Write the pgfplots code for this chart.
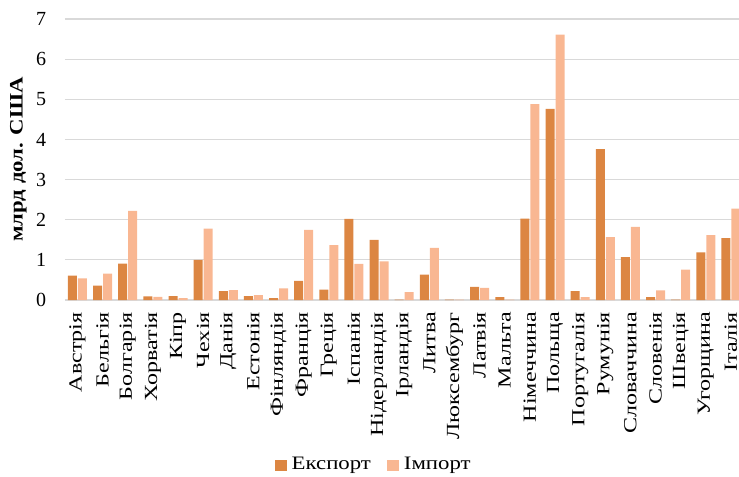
\documentclass[border=0pt]{standalone}
\usepackage{fontspec}
\setmainfont{Liberation Serif}
\newfontfamily\lbl[FakeStretch=1.3]{Liberation Serif}
\newfontfamily\lblb[FakeStretch=1.2]{Liberation Serif}
\usepackage{pgfplots}
\pgfplotsset{compat=1.18}

\definecolor{exportc}{HTML}{DC8642}
\definecolor{importc}{HTML}{F9B792}
\definecolor{gridc}{HTML}{D9D9D9}

\begin{document}
\fontsize{20}{24}\selectfont
\begin{tikzpicture}
\begin{axis}[
    at={(0,0)}, anchor=south west,
    scale only axis,
    width=674pt, height=281pt,
    ybar=1pt, bar width=9pt,
    xmin=-0.5, xmax=26.32,
    ymin=0, ymax=7,
    ytick={0,1,...,7},
    xtick={0,...,26},
    xticklabels={Австрія, Бельгія, Болгарія, Хорватія, Кіпр, Чехія, Данія, Естонія,
        Фінляндія, Франція, Греція, Іспанія, Нідерландія, Ірландія, Литва, Люксембург,
        Латвія, Мальта, Німеччина, Польща, Португалія, Румунія, Словаччина, Словенія,
        Швеція, Угорщина, Італія},
    xticklabel style={rotate=90, anchor=east, inner sep=0pt,
        font=\lbl\fontsize{18.5}{22}\selectfont},
    xticklabel shift=12pt,
    yticklabel style={xshift=-12pt},
    /pgf/number format/assume math mode=true,
    major tick length=0pt,
    axis line style={draw=none},
    ymajorgrids,
    grid style={gridc, line width=1.1pt},
    ylabel={млрд дол. США},
    every axis y label/.style={at={(axis description cs:-0.069,0.5)}, rotate=90,
        anchor=center, font=\lblb\bfseries\fontsize{19}{22}\selectfont},
    legend columns=2,
    legend style={draw=none, at={(0.458,-0.587)}, anchor=center,
        /tikz/every odd column/.append style={column sep=3pt},
        /tikz/every even column/.append style={column sep=14pt},
        font=\lblb\fontsize{19}{22}\selectfont},
    legend image code/.code={\fill[#1] (0pt,-5.5pt) rectangle (12pt,5.5pt);},
]
\addplot[fill=exportc, draw=none] coordinates {
    (0,0.61) (1,0.36) (2,0.91) (3,0.09) (4,0.10) (5,1.00) (6,0.22) (7,0.10)
    (8,0.05) (9,0.48) (10,0.26) (11,2.02) (12,1.50) (13,0.01) (14,0.63) (15,0.01)
    (16,0.33) (17,0.07) (18,2.03) (19,4.76) (20,0.22) (21,3.76) (22,1.07) (23,0.07)
    (24,0.01) (25,1.19) (26,1.54)
};
\addlegendentry{Експорт}
\addplot[fill=importc, draw=none] coordinates {
    (0,0.54) (1,0.66) (2,2.22) (3,0.08) (4,0.05) (5,1.78) (6,0.25) (7,0.12)
    (8,0.29) (9,1.75) (10,1.37) (11,0.90) (12,0.96) (13,0.20) (14,1.30) (15,0.01)
    (16,0.30) (17,0.01) (18,4.88) (19,6.61) (20,0.07) (21,1.57) (22,1.82) (23,0.24)
    (24,0.76) (25,1.62) (26,2.28)
};
\addlegendentry{Імпорт}
\end{axis}
\pgfresetboundingbox
\path[use as bounding box] ([xshift=-64.9pt,yshift=-176pt]current axis.south west)
    rectangle ([yshift=19pt]current axis.north east);
\end{tikzpicture}
\end{document}
